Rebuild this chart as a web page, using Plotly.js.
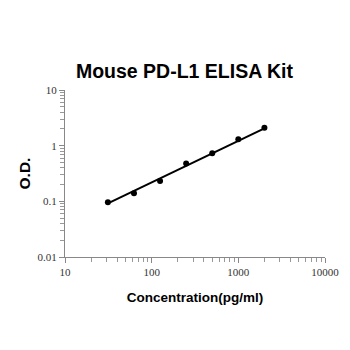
<!DOCTYPE html>
<html><head><meta charset="utf-8">
<script src="https://cdn.plot.ly/plotly-3.0.1.min.js"></script>
<style>html,body{margin:0;padding:0;background:#fff}#c{width:350px;height:350px}</style>
</head><body><div id="c"></div>
<script>
const concentration = [31.25, 62.5, 125, 250, 500, 1000, 2000];
const od = [0.096, 0.139, 0.231, 0.48, 0.73, 1.30, 2.09];
const trendX = [31.25, 2000];
const trendY = [0.092, 2.05];
const xTicks = [10, 100, 1000, 10000];
const yTicks = [0.01, 0.1, 1, 10];

const traces = [
  {x: trendX, y: trendY, mode: 'lines', line: {color: '#000', width: 2}, hoverinfo: 'skip'},
  {x: concentration, y: od, mode: 'markers', marker: {color: '#000', size: 6}}
];
const tickFont = {family: 'Liberation Serif, Times New Roman, serif', size: 11, color: '#333'};
const layout = {
  width: 350, height: 350,
  margin: {l: 65, r: 25, t: 90, b: 93},
  showlegend: false,
  paper_bgcolor: '#fff', plot_bgcolor: '#fff',
  title: {text: '<b>Mouse PD-L1 ELISA Kit</b>', x: 0.527, xanchor: 'center', y: 0.797, yanchor: 'middle',
          font: {family: 'Liberation Sans, Arial, sans-serif', size: 19.5, color: '#000'}},
  xaxis: {
    type: 'log', range: [1, 4], tickvals: xTicks, ticktext: xTicks.map(String),
    showgrid: false, zeroline: false, showline: true, linecolor: '#888', linewidth: 1,
    ticks: 'outside', ticklen: 5, tickcolor: '#888',
    minor: {ticks: 'outside', ticklen: 4, tickcolor: '#999', dtick: 'D1', showgrid: false},
    tickfont: tickFont,
    title: {text: '<b>Concentration(pg/ml)</b>', standoff: 15,
            font: {family: 'Liberation Sans, Arial, sans-serif', size: 13.5, color: '#000'}}
  },
  yaxis: {
    type: 'log', range: [-2, 1], tickvals: yTicks, ticktext: ['0.01', '0.1', '1', '10'],
    showgrid: false, zeroline: false, showline: true, linecolor: '#888', linewidth: 1,
    ticks: 'outside', ticklen: 5, tickcolor: '#888',
    minor: {ticks: 'outside', ticklen: 4, tickcolor: '#999', dtick: 'D1', showgrid: false},
    tickfont: tickFont,
    title: {text: '<b>O.D.</b>', standoff: 3,
            font: {family: 'Liberation Sans, Arial, sans-serif', size: 15.5, color: '#000'}}
  }
};
Plotly.newPlot('c', traces, layout, {displayModeBar: false, staticPlot: true});
</script></body></html>
